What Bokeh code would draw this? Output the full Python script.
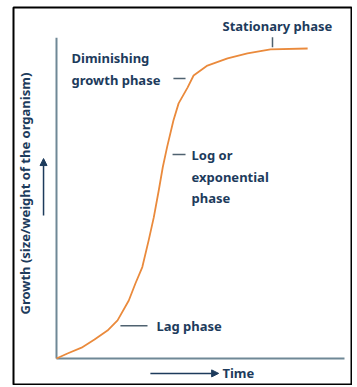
from bokeh.plotting import figure
from bokeh.models import Range1d, Arrow, NormalHead, Label
from bokeh.embed import file_html
from bokeh.resources import INLINE

# Growth curve (time, growth)
time = [0.0, 0.38, 0.87, 1.32, 1.77, 2.12, 2.51, 2.74, 2.98, 3.20, 3.38, 3.55, 3.69, 3.84,
        4.06, 4.24, 4.55, 4.76, 5.24, 5.94, 6.63, 7.43, 8.72]
growth = [0.0, 1.6, 3.5, 6.1, 9.0, 12.3, 18.7, 24.2, 29.5, 38.1, 45.6, 54.2, 61.7, 68.2,
          76.8, 82.3, 87.4, 91.3, 94.5, 96.8, 98.4, 99.7, 100.0]

x_label = "Time"
y_label = "Growth (size/weight of the organism)"

TXT = "#1d3b5c"
AX = "#6f8896"
TICK = "#4f6270"
FONT = "Noto Sans"

p = figure(width=352, height=385, x_range=Range1d(-1.493, 10.278), y_range=Range1d(-8.71, 113.23),
           output_backend="svg", toolbar_location=None, min_border_left=13, min_border_right=0,
           min_border_top=7, min_border_bottom=0)
p.axis.visible = False
p.grid.visible = False
p.outline_line_color = "black"
p.outline_line_width = 2
p.background_fill_color = "white"

# axes
p.line([0, 0], [0, 103.5], line_color=AX, line_width=2)
p.line([0, 10], [0, 0], line_color=AX, line_width=2)

# curve
p.line(time, growth, line_color="#ea8a3c", line_width=1.8, line_join="round")

# annotation ticks
p.line([7.5, 7.5], [100.4, 103.6], line_color=TICK, line_width=1.5)
p.line([4.06, 4.48], [90.3, 90.3], line_color=TICK, line_width=1.5)
p.line([4.03, 4.48], [65.8, 65.8], line_color=TICK, line_width=1.5)
p.line([2.22, 3.16], [10.6, 10.6], line_color=TICK, line_width=1.5)

def lab(x, y, t, align="left", angle=0, size="13px"):
    p.add_layout(Label(x=x, y=y, text=t, text_color=TXT, text_font=FONT, text_font_style="bold",
                       text_font_size=size, text_align=align, text_baseline="middle", angle=angle))

lab(7.67, 107.4, "Stationary phase", align="center")
lab(0.52, 96.8, "Diminishing")
lab(0.52, 89.7, "growth phase")
lab(4.69, 65.8, "Log or")
lab(4.69, 58.7, "exponential")
lab(4.69, 51.9, "phase")
lab(3.47, 10.6, "Lag phase")
lab(5.76, -4.8, x_label)
lab(-1.11, 53.2, y_label, align="center", angle=1.5708, size="13px")

p.add_layout(Arrow(end=NormalHead(size=7, fill_color=TXT, line_color=TXT), x_start=3.26, y_start=-4.8,
                   x_end=5.63, y_end=-4.8, line_color=TXT, line_width=1.5))
p.add_layout(Arrow(end=NormalHead(size=7, fill_color=TXT, line_color=TXT), x_start=-0.45, y_start=46.1,
                   x_end=-0.45, y_end=64.5, line_color=TXT, line_width=1.5))

open("out.html", "w").write(file_html(p, INLINE))
